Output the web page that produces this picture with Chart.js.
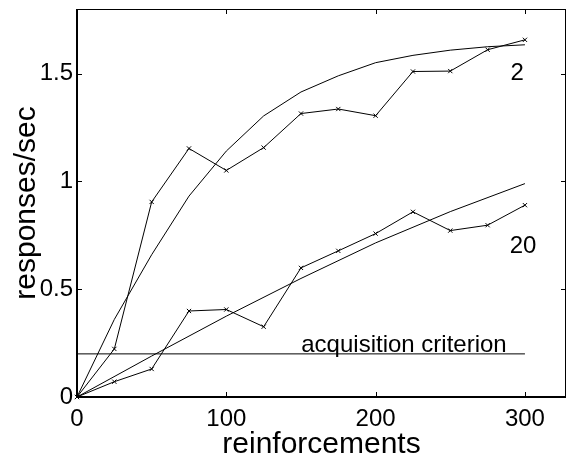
<!DOCTYPE html>
<html>
<head>
<meta charset="utf-8">
<script src="https://cdn.jsdelivr.net/npm/chart.js@4"></script>
<style>
  html, body { margin: 0; padding: 0; background: #fff; }
  #wrap { width: 571px; height: 465px; }
</style>
</head>
<body>
<div id="wrap"><canvas id="acqChart"></canvas></div>
<script>
// reinforcements at which rates were measured
var stepsX = [0, 25, 50, 75, 100, 125, 150, 175, 200, 225, 250, 275, 300];
// observed rate, condition "2"
var obs2 = [0, 0.223, 0.905, 1.153, 1.051, 1.157, 1.315, 1.336, 1.305, 1.510, 1.512, 1.611, 1.657];
// observed rate, condition "20"
var obs20 = [0, 0.071, 0.130, 0.399, 0.406, 0.326, 0.599, 0.678, 0.758, 0.859, 0.772, 0.797, 0.890];
// fitted curve, condition "2"
var fit2 = [0, 0.36, 0.66, 0.932, 1.141, 1.304, 1.415, 1.49, 1.551, 1.585, 1.609, 1.625, 1.634];
// fitted curve, condition "20"
var fit20X = [0, 50, 100, 150, 200, 250, 300];
var fit20 = [0, 0.19, 0.375, 0.55, 0.715, 0.86, 0.99];
// acquisition criterion
var critX = [0, 300];
var critY = [0.2, 0.2];

var xTicks = [0, 100, 200, 300];
var yTicks = [0, 0.5, 1, 1.5];

// text labels, in data units
var notes = [
    { text: '2', x: 294.8, y: 1.50, align: 'center', base: 'middle' },
    { text: '20', x: 298.7, y: 0.697, align: 'center', base: 'middle' },
    { text: 'acquisition criterion', x: 150.2, y: 0.21, align: 'left', base: 'alphabetic' }
];

var FONT = 'Liberation Sans, Arial, Helvetica, sans-serif';

function pts(xs, ys) {
    return xs.map(function (x, i) { return { x: x, y: ys[i] }; });
}

// MATLAB-like box with inward ticks, plus text labels
var boxPlugin = {
    id: 'boxPlugin',
    afterDraw: function (chart) {
        var ctx = chart.ctx;
        var a = chart.chartArea;
        var xs = chart.scales.x, ys = chart.scales.y;
        var tl = 5;
        ctx.save();
        ctx.strokeStyle = '#000';

        ctx.lineWidth = 1;
        ctx.beginPath();
        ctx.moveTo(a.left, a.top + 0.5);
        ctx.lineTo(a.right, a.top + 0.5);
        ctx.moveTo(a.right - 0.5, a.top);
        ctx.lineTo(a.right - 0.5, a.bottom);
        xTicks.forEach(function (v) {
            var px = Math.round(xs.getPixelForValue(v)) + 0.5;
            ctx.moveTo(px, a.bottom);
            ctx.lineTo(px, a.bottom - tl);
            ctx.moveTo(px, a.top);
            ctx.lineTo(px, a.top + tl);
        });
        yTicks.forEach(function (v) {
            var py = Math.round(ys.getPixelForValue(v)) + 0.5;
            ctx.moveTo(a.left, py);
            ctx.lineTo(a.left + tl, py);
            ctx.moveTo(a.right, py);
            ctx.lineTo(a.right - tl, py);
        });
        ctx.stroke();

        ctx.lineWidth = 2;
        ctx.beginPath();
        ctx.moveTo(a.left, a.top);
        ctx.lineTo(a.left, a.bottom);
        ctx.lineTo(a.right, a.bottom);
        ctx.stroke();

        ctx.fillStyle = '#000';
        ctx.font = '24px ' + FONT;
        notes.forEach(function (n) {
            ctx.textAlign = n.align;
            ctx.textBaseline = n.base;
            ctx.fillText(n.text, xs.getPixelForValue(n.x), ys.getPixelForValue(n.y));
        });
        ctx.restore();
    }
};

var lineStyle = {
    borderColor: '#000',
    borderWidth: 1,
    fill: false,
    tension: 0,
    clip: false
};

function init_chart() {
    const ctx = document.getElementById('acqChart').getContext('2d');
    new Chart(ctx, {
        type: 'line',
        data: {
            datasets: [
                Object.assign({ label: 'obs 2', data: pts(stepsX, obs2), pointStyle: 'crossRot', pointRadius: 3, pointBorderColor: '#000', pointBorderWidth: 1 }, lineStyle),
                Object.assign({ label: 'obs 20', data: pts(stepsX, obs20), pointStyle: 'crossRot', pointRadius: 3, pointBorderColor: '#000', pointBorderWidth: 1 }, lineStyle),
                Object.assign({ label: 'fit 2', data: pts(stepsX, fit2), pointRadius: 0 }, lineStyle),
                Object.assign({ label: 'fit 20', data: pts(fit20X, fit20), pointRadius: 0 }, lineStyle),
                Object.assign({ label: 'criterion', data: pts(critX, critY), pointRadius: 0 }, lineStyle)
            ]
        },
        options: {
            responsive: true,
            maintainAspectRatio: false,
            animation: false,
            layout: { padding: { top: 9, right: 1, bottom: 0, left: 0 } },
            plugins: {
                legend: { display: false },
                tooltip: { enabled: false }
            },
            scales: {
                x: {
                    type: 'linear',
                    min: 0,
                    max: 327.5,
                    grid: { display: false, drawTicks: false },
                    border: { display: false },
                    afterBuildTicks: function (s) { s.ticks = xTicks.map(function (v) { return { value: v }; }); },
                    afterFit: function (s) { s.height = 68; s.paddingLeft = 0; s.paddingRight = 0; },
                    ticks: {
                        color: '#000',
                        padding: 8,
                        maxRotation: 0,
                        autoSkip: false,
                        font: { family: FONT, size: 24 },
                        callback: function (v) { return String(v); }
                    },
                    title: {
                        display: true,
                        text: 'reinforcements',
                        color: '#000',
                        font: { family: FONT, size: 30, lineHeight: 1 },
                        padding: { top: 0, bottom: 5 }
                    }
                },
                y: {
                    type: 'linear',
                    min: 0,
                    max: 1.8,
                    grid: { display: false, drawTicks: false },
                    border: { display: false },
                    afterBuildTicks: function (s) { s.ticks = yTicks.map(function (v) { return { value: v }; }); },
                    afterFit: function (s) { s.width = 77; s.paddingTop = 0; s.paddingBottom = 0; },
                    ticks: {
                        color: '#000',
                        padding: 4,
                        autoSkip: false,
                        font: { family: FONT, size: 24 },
                        callback: function (v) { return String(v); }
                    },
                    title: {
                        display: true,
                        text: 'responses/sec',
                        color: '#000',
                        font: { family: FONT, size: 30, lineHeight: 1 },
                        padding: { top: 12, bottom: 0 }
                    }
                }
            }
        },
        plugins: [boxPlugin]
    });
}

init_chart();
</script>
</body>
</html>
